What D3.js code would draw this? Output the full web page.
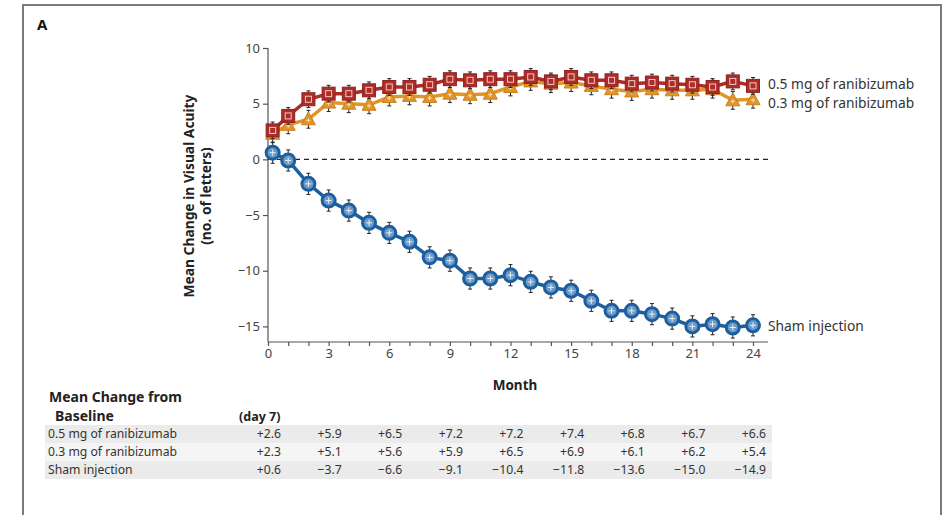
<!DOCTYPE html>
<html>
<head>
<meta charset="utf-8">
<script src="https://cdn.jsdelivr.net/npm/d3@7"></script>
<style>
  body { margin: 0; background: #fff; }
  svg { font-family: "Noto Sans", "Open Sans", sans-serif; }
</style>
</head>
<body>
<div id="chart"></div>
<script>
const width = 948;
const height = 515;

// month of each visit (first one is day 7)
const months = [0.23, 1, 2, 3, 4, 5, 6, 7, 8, 9, 10, 11, 12, 13, 14, 15, 16, 17, 18, 19, 20, 21, 22, 23, 24];
const dose05 = [2.6, 3.9, 5.4, 5.9, 5.9, 6.2, 6.5, 6.5, 6.7, 7.2, 7.1, 7.2, 7.2, 7.4, 7.0, 7.4, 7.1, 7.1, 6.8, 6.9, 6.8, 6.7, 6.5, 7.0, 6.6];
const dose03 = [2.3, 3.1, 3.6, 5.1, 5.0, 4.9, 5.6, 5.7, 5.6, 5.9, 5.8, 5.9, 6.5, 7.0, 6.8, 6.9, 6.6, 6.3, 6.1, 6.3, 6.2, 6.2, 6.3, 5.3, 5.4];
const sham = [0.6, -0.1, -2.2, -3.7, -4.6, -5.7, -6.6, -7.4, -8.8, -9.1, -10.7, -10.7, -10.4, -11.0, -11.5, -11.8, -12.7, -13.6, -13.6, -13.9, -14.3, -15.0, -14.8, -15.1, -14.9];
const errors = [0.75, 0.8, 0.95];

const seriesNames = ["0.5 mg of ranibizumab", "0.3 mg of ranibizumab", "Sham injection"];
const xTicks = [0, 3, 6, 9, 12, 15, 18, 21, 24];
const yTicks = [10, 5, 0, -5, -10, -15];

// table under the chart
const tableRows = ["0.5 mg of ranibizumab", "0.3 mg of ranibizumab", "Sham injection"];
const table05 = ["+2.6", "+5.9", "+6.5", "+7.2", "+7.2", "+7.4", "+6.8", "+6.7", "+6.6"];
const table03 = ["+2.3", "+5.1", "+5.6", "+5.9", "+6.5", "+6.9", "+6.1", "+6.2", "+5.4"];
const tableSham = ["+0.6", "\u22123.7", "\u22126.6", "\u22129.1", "\u221210.4", "\u221211.8", "\u221213.6", "\u221215.0", "\u221214.9"];

const colors = ["#ad2c27", "#e0952b", "#1d5f9e"];

const svg = d3.select("#chart")
    .append("svg")
    .attr("width", width)
    .attr("height", height);

// panel frame
svg.append("path")
    .attr("d", "M23,520 V5 H941 V520")
    .attr("fill", "none")
    .attr("stroke", "#7a7a7a")
    .attr("stroke-width", 2);

svg.append("text")
    .attr("x", 37).attr("y", 30)
    .attr("font-size", 15).attr("font-weight", "bold")
    .attr("fill", "#111")
    .text("A");

const xScale = d3.scaleLinear()
    .domain([0, 24])
    .range([268, 753]);

const yScale = d3.scaleLinear()
    .domain([-16.4, 10])
    .range([342, 48]);

// y axis
const yAxis = svg.append("g")
    .attr("transform", "translate(268,0)")
    .call(d3.axisLeft(yScale).tickValues(yTicks).tickSize(5).tickSizeOuter(0)
        .tickFormat(d => d < 0 ? "\u2212" + Math.abs(d) : d));
yAxis.select(".domain").attr("d", `M0,${yScale(10)}V${yScale(-16.4)}`);

// x axis
const xAxis = svg.append("g")
    .attr("transform", "translate(0,342)")
    .call(d3.axisBottom(xScale).tickValues(d3.range(0, 25)).tickSize(4).tickSizeOuter(0)
        .tickFormat(d => xTicks.includes(d) ? d : ""));
xAxis.select(".domain").attr("d", "M268,0H768");

svg.selectAll(".tick text").attr("font-size", 13).attr("fill", "#444")
    .attr("font-family", "Noto Sans, sans-serif");
svg.selectAll(".domain, .tick line").attr("stroke", "#555").attr("stroke-width", 1.2);

// axis titles
svg.append("text")
    .attr("x", 515).attr("y", 390)
    .attr("text-anchor", "middle")
    .attr("font-size", 13.5).attr("font-weight", "bold").attr("fill", "#222")
    .text("Month");

const yTitle = svg.append("text")
    .attr("transform", "translate(194,196) rotate(-90)")
    .attr("text-anchor", "middle")
    .attr("font-size", 13.8).attr("font-weight", "bold").attr("fill", "#222");
yTitle.append("tspan").attr("x", 0).attr("dy", 0).text("Mean Change in Visual Acuity");
yTitle.append("tspan").attr("x", 0).attr("dy", 17).text("(no. of letters)");

// zero reference line
svg.append("line")
    .attr("x1", xScale(0)).attr("x2", 768)
    .attr("y1", yScale(0)).attr("y2", yScale(0))
    .attr("stroke", "#222")
    .attr("stroke-width", 1.2)
    .attr("stroke-dasharray", "5,4");

const series = [sham, dose03, dose05];
const order = [2, 1, 0];

const line = d3.line()
    .x((d, i) => xScale(months[i]))
    .y(d => yScale(d));

order.forEach((s, k) => {
    const values = series[k];
    const color = colors[s];
    const g = svg.append("g");

    g.append("path")
        .datum(values)
        .attr("fill", "none")
        .attr("stroke", color)
        .attr("stroke-width", 3.5)
        .attr("d", line);

    const err = errors[s];
    const bars = g.selectAll(".err")
        .data(values)
        .join("g")
        .attr("stroke", "#222")
        .attr("stroke-width", 1);
    bars.append("line")
        .attr("x1", (d, i) => xScale(months[i])).attr("x2", (d, i) => xScale(months[i]))
        .attr("y1", d => yScale(d + err)).attr("y2", d => yScale(d - err));
    bars.append("line")
        .attr("x1", (d, i) => xScale(months[i]) - 2).attr("x2", (d, i) => xScale(months[i]) + 2)
        .attr("y1", d => yScale(d + err)).attr("y2", d => yScale(d + err));
    bars.append("line")
        .attr("x1", (d, i) => xScale(months[i]) - 2).attr("x2", (d, i) => xScale(months[i]) + 2)
        .attr("y1", d => yScale(d - err)).attr("y2", d => yScale(d - err));

    const marks = g.selectAll(".mark")
        .data(values)
        .join("g")
        .attr("transform", (d, i) => `translate(${xScale(months[i])},${yScale(d)})`);

    if (s === 0) {
        marks.append("rect")
            .attr("x", -6.5).attr("y", -6.5).attr("width", 13).attr("height", 13)
            .attr("fill", color).attr("stroke", "#8e2220").attr("stroke-width", 1);
        marks.append("rect")
            .attr("x", -3).attr("y", -3).attr("width", 6).attr("height", 6)
            .attr("fill", "none").attr("stroke", "#f3c9c4").attr("stroke-width", 1);
    } else if (s === 1) {
        marks.append("path")
            .attr("d", "M0,-7.5L7,5.5H-7Z")
            .attr("fill", color).attr("stroke", "#c98120").attr("stroke-width", 1);
        marks.append("path")
            .attr("d", "M0,-1V3M-2,1H2")
            .attr("stroke", "#fbe2b8").attr("stroke-width", 1);
    } else {
        marks.append("circle")
            .attr("r", 6.5)
            .attr("fill", "#6d9bc8").attr("stroke", color).attr("stroke-width", 3);
        marks.append("path")
            .attr("d", "M0,-3V3M-3,0H3")
            .attr("stroke", "#e8f0f8").attr("stroke-width", 1);
    }
});

// end labels
const labelY = [yScale(dose05[24]) - 2, yScale(dose03[24]) + 4, yScale(sham[24]) + 1];
seriesNames.forEach((name, s) => {
    svg.append("text")
        .attr("x", 768).attr("y", labelY[s])
        .attr("dy", "0.35em")
        .attr("font-size", 13.8).attr("fill", "#333")
        .text(name);
});

// table
svg.append("text")
    .attr("x", 49).attr("y", 402)
    .attr("font-size", 14).attr("font-weight", "bold").attr("fill", "#222")
    .text("Mean Change from");
svg.append("text")
    .attr("x", 55).attr("y", 421)
    .attr("font-size", 14).attr("font-weight", "bold").attr("fill", "#222")
    .text("Baseline");
svg.append("text")
    .attr("x", 239).attr("y", 421)
    .attr("font-size", 12.5).attr("font-weight", "bold").attr("fill", "#222")
    .text("(day 7)");

const rowData = [table05, table03, tableSham];
const rowFill = ["#ebebeb", "#f5f5f5", "#ebebeb"];
const colX = d3.scaleLinear().domain([0, 8]).range([281, 766]);

tableRows.forEach((name, r) => {
    const y0 = 425 + r * 18;
    svg.append("rect")
        .attr("x", 45).attr("y", y0).attr("width", 727).attr("height", 18)
        .attr("fill", rowFill[r]);
    svg.append("text")
        .attr("x", 48).attr("y", y0 + 9).attr("dy", "0.35em")
        .attr("font-size", 12.2).attr("fill", "#333")
        .text(name);
    svg.selectAll(null)
        .data(rowData[r])
        .join("text")
        .attr("x", (d, i) => colX(i))
        .attr("y", y0 + 9).attr("dy", "0.35em")
        .attr("text-anchor", "end")
        .attr("font-size", 12.2).attr("fill", "#333")
        .text(d => d);
});
</script>
</body>
</html>
